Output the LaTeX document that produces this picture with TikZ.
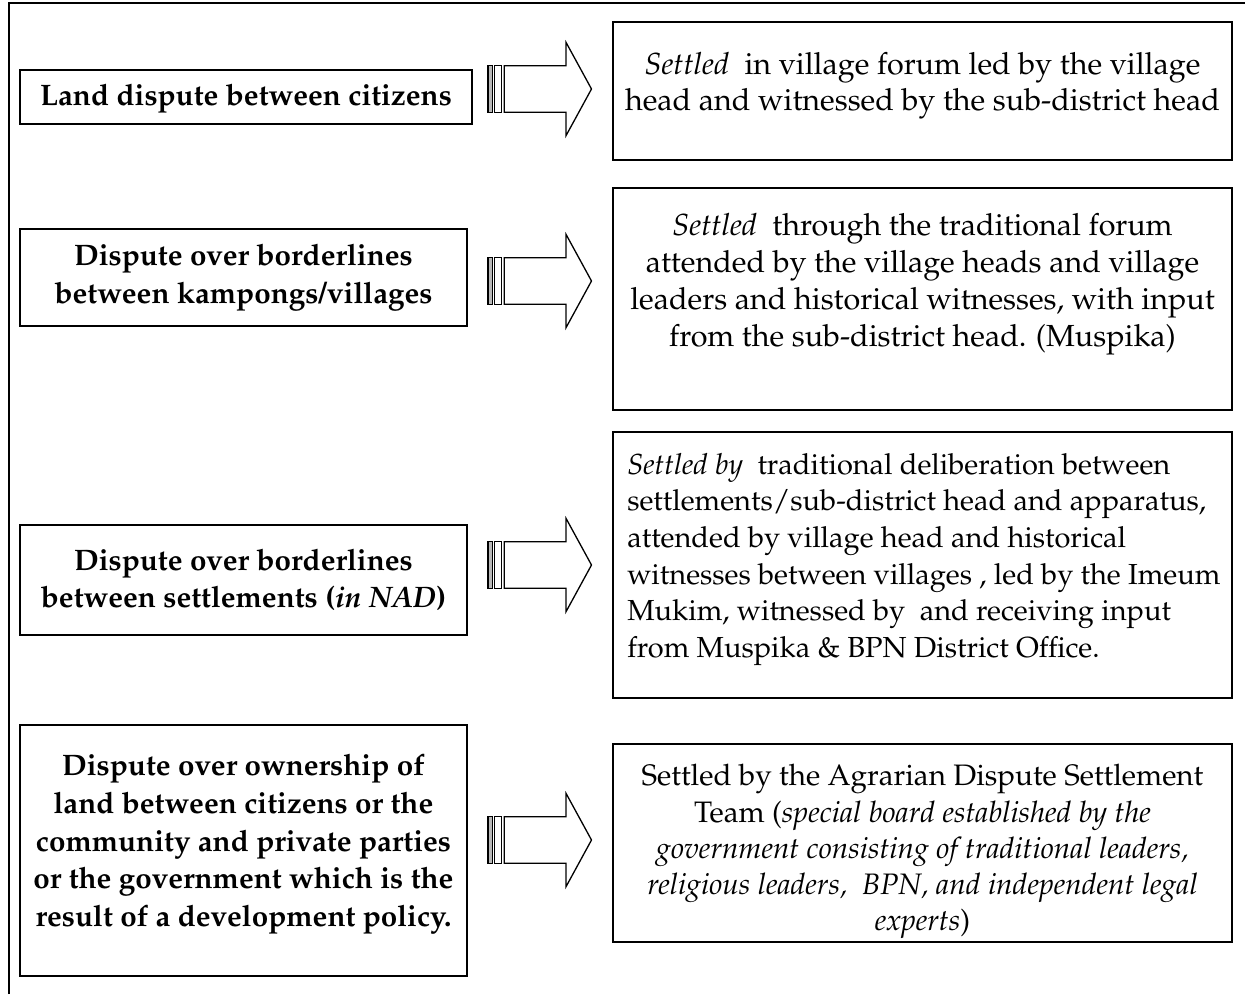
\documentclass[tikz,border=0pt]{standalone}
\usepackage[T1]{fontenc}
\usepackage{mathpazo}
\tikzset{
  frame/.style={line width=2pt},
  box/.style={draw, line width=1.8pt, inner sep=0pt},
  ltext/.style={align=center, inner sep=0pt, font=\fontsize{29.6}{37.7}\selectfont\bfseries},
  rtext/.style={align=center, inner sep=0pt},
  arrline/.style={line width=1.3pt, line join=miter},
}
\newcommand\stripedarrow[2]{%
  % #1 name, #2 centre y
  \coordinate (#1) at (540,#2);
  \draw[arrline, fill=gray!55] (488,#2-23.3) rectangle (492.3,#2+23.3);
  \draw[arrline, fill=white] (494.8,#2-23.3) rectangle (501.8,#2+23.3);
  \draw[arrline, fill=white] (504.3,#2-23.3) -- (566,#2-23.3) -- (566,#2-46.7)
     -- (591.5,#2) -- (566,#2+46.7) -- (566,#2+23.3) -- (504.3,#2+23.3) -- cycle;
}
\begin{document}
\begin{tikzpicture}[x=1pt,y=-1pt]
\useasboundingbox (0,0) rectangle (1245,994);
% outer frame
\draw[frame] (9,994) -- (9,3) -- (1245,3);

% left boxes
\node[box, minimum width=452, minimum height=54] (l1) at (246,97) {};
\node[ltext] at ([yshift=-2]l1.center) {Land dispute between citizens};

\node[box, minimum width=447, minimum height=97] (l2) at (243.5,277.5) {};
\node[ltext] at (l2.center) {Dispute over borderlines\\between kampongs/villages};

\node[box, minimum width=447, minimum height=110] (l3) at (243.5,580) {};
\node[ltext] at (l3.center) {Dispute over borderlines\\between settlements (\textit{in NAD})};

\node[box, minimum width=447, minimum height=251] (l4) at (243.5,850.5) {};
\node[ltext, anchor=north] at ([yshift=-30]l4.north) {Dispute over ownership of\\land between citizens or the\\community and private parties\\or the government which is the\\result of a development policy.};

% right boxes
\node[box, minimum width=619, minimum height=138] (r1) at (922.5,91) {};
\node[rtext, font=\fontsize{30.5}{36.5}\selectfont, anchor=north] at ([yshift=-31]r1.north) {\textit{Settled}\ \ in village forum led by the village\\head and witnessed by the sub-district head};

\node[box, minimum width=619, minimum height=222] (r2) at (922.5,299) {};
\node[rtext, font=\fontsize{30.5}{37}\selectfont, anchor=north] at ([yshift=-26]r2.north) {\textit{Settled}\ \ through the traditional forum\\attended by the village heads and village\\leaders and historical witnesses, with input\\from the sub-district head. (Muspika)};

\node[box, minimum width=619, minimum height=266] (r3) at (922.5,565) {};
\node[rtext, font=\fontsize{29}{36.6}\selectfont, align=left, anchor=north west] at ([xshift=15,yshift=-22]r3.north west) {\textit{Settled by}\ \ traditional deliberation between\\settlements/sub-district head and apparatus,\\attended by village head and historical\\witnesses between villages , led by the Imeum\\Mukim, witnessed by\ \ and receiving input\\from Muspika \& BPN District Office.};

\node[box, minimum width=619, minimum height=198] (r4) at (922.5,843) {};
\node[rtext, font=\fontsize{29.6}{36.3}\selectfont, anchor=north] at ([yshift=-21]r4.north) {Settled by the Agrarian Dispute Settlement\\Team (\textit{special board established by the}\\\textit{government consisting of traditional leaders,}\\\textit{religious leaders,\ \ BPN, and independent legal}\\\textit{experts})};

% arrows
\stripedarrow{a1}{89}
\stripedarrow{a2}{281}
\stripedarrow{a3}{565}
\stripedarrow{a4}{840}
\end{tikzpicture}
\end{document}
